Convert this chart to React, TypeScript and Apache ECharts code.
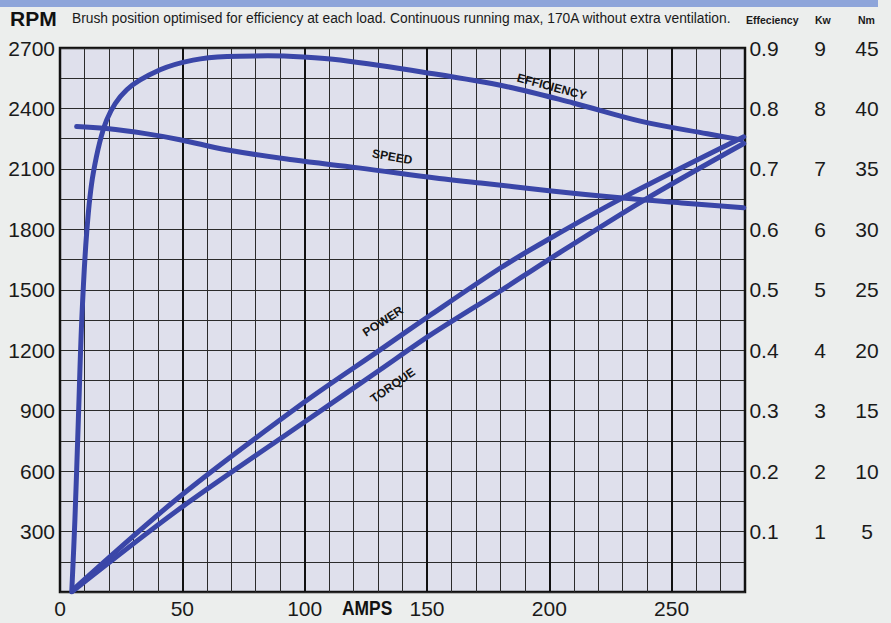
import React, { useEffect, useRef } from "react";
import * as echarts from "echarts";

// ---- data ----
const ampsTicks = [0, 50, 100, 150, 200, 250];
const rpmTicks = [300, 600, 900, 1200, 1500, 1800, 2100, 2400, 2700];

// Efficiency (amps, efficiency 0..1)
const efficiencyAmps = [4.8, 6.1, 7.5, 8.9, 10.9, 13.6, 19.1, 27.3, 40.9, 54.4, 68.3, 85, 99.4, 114.5, 148.5, 182.8, 209.8, 237.2, 264.6, 278.5];
const efficiencyVals = [0.0, 0.12, 0.285, 0.45, 0.594, 0.693, 0.781, 0.831, 0.864, 0.88, 0.886, 0.887, 0.885, 0.88, 0.86, 0.836, 0.809, 0.779, 0.758, 0.748];

// Speed (amps, rpm)
const speedAmps = [6.8, 19, 35, 49, 68, 95, 122, 155, 172, 199, 230, 254, 279.5];
const speedVals = [2310, 2300, 2275, 2245, 2195, 2145, 2105, 2052, 2030, 1993, 1955, 1931, 1907];

// Power (amps, kW)
const powerAmps = [5.4, 49, 99.5, 131, 151, 180, 199, 230, 279.5];
const powerVals = [0.04, 1.58, 3.13, 4.01, 4.57, 5.36, 5.82, 6.52, 7.53];

// Torque (amps, Nm)
const torqueAmps = [5.4, 49, 99.5, 131, 151, 180, 199, 238.6, 279.5];
const torqueVals = [0.1, 6.9, 14.0, 18.4, 21.2, 24.9, 27.4, 32.4, 37.1];

const zip = (a: number[], b: number[]) => a.map((x, i) => [x, b[i]]);

const LINE = "#3a46a8";
const SANS = "'Liberation Sans', Arial, sans-serif";

export default function App() {
  const ref = useRef<HTMLDivElement>(null);
  useEffect(() => {
    if (!ref.current) return;
    const chart = echarts.init(ref.current, undefined, { renderer: "svg" });
    const lbl = (text: string, coord: number[], rotate: number) => ({
      coord,
      symbol: "circle",
      symbolSize: 1,
      itemStyle: { color: "rgba(0,0,0,0)" },
      label: {
        show: true,
        formatter: text,
        position: "inside",
        rotate,
        color: "#151515",
        fontFamily: SANS,
        fontWeight: "bold",
        fontSize: 12,
      },
    });
    const rightAxis = (max: number, interval: number, margin: number, fmt: (v: number) => string) => ({
      type: "value",
      position: "right",
      min: 0,
      max,
      interval,
      axisLine: { show: false },
      axisTick: { show: false },
      splitLine: { show: false },
      axisLabel: {
        margin,
        align: "center",
        color: "#1a1a1a",
        fontFamily: SANS,
        fontSize: 21,
        formatter: fmt,
      },
    });
    const line = (name: string, yAxisIndex: number, data: number[][], smooth: number, mark: any) => ({
      name,
      type: "line",
      xAxisIndex: 0,
      yAxisIndex,
      data,
      smooth,
      symbol: "none",
      lineStyle: { color: LINE, width: 5, cap: "round", join: "round" },
      markPoint: { data: [mark] },
    });
    chart.setOption({
      animation: false,
      backgroundColor: "#eceeed",
      grid: {
        left: 60,
        right: 146,
        top: 48,
        bottom: 31,
        show: true,
        backgroundColor: "#dfe0ec",
        borderColor: "#111",
        borderWidth: 2.5,
        z: 0,
      },
      xAxis: [
        {
          type: "value",
          min: 0,
          max: 280,
          interval: 10,
          axisLine: { show: false },
          axisTick: { show: false },
          splitLine: { show: true, lineStyle: { color: "#2b2b2b", width: 1 } },
          axisLabel: {
            margin: 6,
            color: "#1a1a1a",
            fontFamily: SANS,
            fontSize: 21,
            formatter: (v: number) => (ampsTicks.includes(v) ? String(v) : ""),
          },
        },
        {
          type: "value",
          min: 0,
          max: 280,
          interval: 50,
          axisLine: { show: false },
          axisTick: { show: false },
          axisLabel: { show: false },
          splitLine: { show: true, lineStyle: { color: "#111", width: 2 } },
        },
      ],
      yAxis: [
        {
          type: "value",
          min: 0,
          max: 2700,
          interval: 150,
          axisLine: { show: false },
          axisTick: { show: false },
          splitLine: { show: true, lineStyle: { color: "#2b2b2b", width: 1.2 } },
          axisLabel: {
            margin: 5,
            color: "#1a1a1a",
            fontFamily: SANS,
            fontSize: 21,
            formatter: (v: number) => (rpmTicks.includes(v) ? String(v) : ""),
          },
        },
        rightAxis(0.9, 0.1, 19, (v: number) => (v > 0.001 ? v.toFixed(1) : "")),
        rightAxis(9, 1, 75, (v: number) => (v > 0 ? String(v) : "")),
        rightAxis(45, 5, 122, (v: number) => (v > 0 ? String(v) : "")),
      ],
      graphic: [
        { type: "rect", left: 0, top: 0, shape: { width: 878, height: 7 }, style: { fill: "#8ea5da" } },
        {
          type: "text",
          left: 10,
          top: 8,
          style: { text: "RPM", fontFamily: SANS, fontWeight: "bold", fontSize: 21, fill: "#111" },
        },
        {
          type: "text",
          left: 72,
          top: 11,
          style: {
            text: "Brush position optimised for efficiency at each load. Continuous running max, 170A without extra ventilation.",
            fontFamily: SANS,
            fontSize: 13.8,
            fill: "#1a1a1a",
          },
        },
        { type: "text", left: 746, top: 14, style: { text: "Effeciency", fontFamily: SANS, fontWeight: "bold", fontSize: 10.5, fill: "#1a1a1a" } },
        { type: "text", left: 815, top: 14, style: { text: "Kw", fontFamily: SANS, fontWeight: "bold", fontSize: 10.5, fill: "#1a1a1a" } },
        { type: "text", left: 858, top: 14, style: { text: "Nm", fontFamily: SANS, fontWeight: "bold", fontSize: 10.5, fill: "#1a1a1a" } },
        {
          type: "text",
          x: 342,
          y: 597,
          scaleX: 0.83,
          style: { text: "AMPS", fontFamily: SANS, fontWeight: "bold", fontSize: 21, fill: "#111" },
        },
      ],
      series: [
        line("Efficiency", 1, zip(efficiencyAmps, efficiencyVals), 0.35, lbl("EFFICIENCY", [201, 0.836], -15)),
        line("Speed", 0, zip(speedAmps, speedVals), 0.4, lbl("SPEED", [135.8, 2160], -10)),
        line("Power", 2, zip(powerAmps, powerVals), 0.3, lbl("POWER", [132, 4.48], 33)),
        line("Torque", 3, zip(torqueAmps, torqueVals), 0.3, lbl("TORQUE", [136, 17.1], 35)),
      ],
    });
    return () => chart.dispose();
  }, []);
  return (
    <div
      ref={ref}
      style={{ position: "fixed", left: 0, top: 0, width: 891, height: 623 }}
    />
  );
}
